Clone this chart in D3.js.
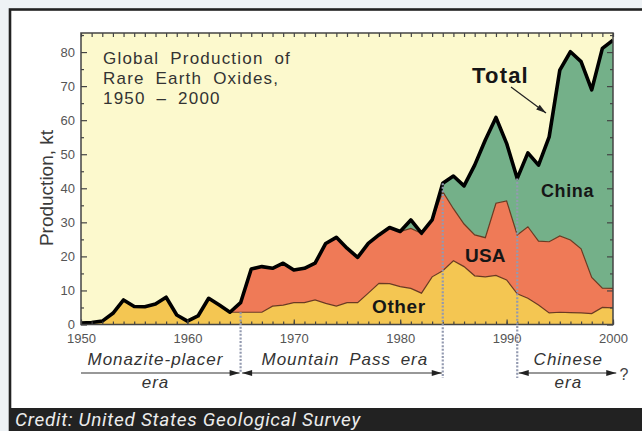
<!DOCTYPE html>
<html>
<head>
<meta charset="utf-8">
<script src="https://cdn.jsdelivr.net/npm/d3@7"></script>
<style>
  html, body { margin: 0; padding: 0; background: #eef2f5; }
  svg { display: block; }
</style>
</head>
<body>
<svg id="chart" width="642" height="431"></svg>
<script>
// Global production of rare earth oxides, kt
const years = [1950,1951,1952,1953,1954,1955,1956,1957,1958,1959,
  1960,1961,1962,1963,1964,1965,1966,1967,1968,1969,
  1970,1971,1972,1973,1974,1975,1976,1977,1978,1979,
  1980,1981,1982,1983,1984,1985,1986,1987,1988,1989,
  1990,1991,1992,1993,1994,1995,1996,1997,1998,1999,2000];
const other = [0.4,0.6,1.0,3.3,7.2,5.3,5.2,6.0,8.0,2.8,
  1.0,2.5,7.7,5.7,3.6,3.6,3.6,3.6,5.4,5.7,
  6.4,6.4,7.2,6.2,5.4,6.4,6.4,9.2,12.1,12.0,
  11.1,10.6,9.2,14.0,15.8,18.7,17.0,14.3,14.0,14.4,
  13.1,9.0,7.7,5.7,3.4,3.6,3.5,3.4,3.2,5.0,4.9];
const usa = [0,0,0,0,0,0,0,0,0,0,
  0,0,0,0,0,2.8,12.7,13.4,11.1,12.3,
  9.6,10.1,10.8,17.6,20.2,16.0,13.3,14.6,14.2,16.5,
  16.2,17.6,17.6,16.7,23.2,15.3,12.5,12.0,11.5,21.2,
  23.2,17.3,21.0,18.8,20.9,22.4,21.3,18.8,10.6,5.7,5.7];
const china = [0,0,0,0,0,0,0,0,0,0,
  0,0,0,0,0,0,0,0,0,0,
  0,0,0,0,0,0,0,0,0,0,
  0,2.5,0,0,2.5,9.6,11.2,20.5,28.7,25.2,
  16.9,16.6,21.7,22.3,30.8,48.7,55.3,55.0,55.1,70.4,72.9];
const yearLabels = [1950,1960,1970,1980,1990,2000];
const yLabels = [0,10,20,30,40,50,60,70,80];
const yMinor = [5,15,25,35,45,55,65,75,85];
const eraBreaks = [1965, 1984, 1991];

const rows = years.map((yr, i) => ({year: yr, other: other[i], usa: usa[i], china: china[i]}));
const keys = ["other", "usa", "china"];
const colors = {other: "#f4c652", usa: "#ef7a57", china: "#74b089"};
const FONT = "'Liberation Sans', Arial, sans-serif";

const svg = d3.select("#chart"),
    W = +svg.attr("width"),
    H = +svg.attr("height");

const pLeft = 81, pRight = 613, pTop = 33, pBottom = 324.5;
const x = d3.scaleLinear().domain([1950, 2000]).range([pLeft, pRight]);
const y = d3.scaleLinear().domain([0, 85.6]).range([pBottom, pTop]);

// frame and credit bar
svg.append("rect").attr("x", 10).attr("y", 9.5).attr("width", W).attr("height", H)
  .attr("fill", "#fff").attr("stroke", "#222").attr("stroke-width", 2.6);
svg.append("rect").attr("x", 10).attr("y", 408).attr("width", W).attr("height", H - 408)
  .attr("fill", "#222");
svg.append("text").attr("x", 15).attr("y", 425.5)
  .attr("font-family", "Roboto, sans-serif").attr("font-style", "italic")
  .attr("font-size", 19).attr("letter-spacing", 0.7).attr("fill", "#ececec")
  .text("Credit: United States Geological Survey");

// plot background
svg.append("rect").attr("x", pLeft).attr("y", pTop).attr("width", pRight - pLeft).attr("height", pBottom - pTop)
  .attr("fill", "#fcf9cd");

svg.append("clipPath").attr("id", "clip").append("rect")
  .attr("x", pLeft).attr("y", pTop).attr("width", pRight - pLeft).attr("height", pBottom - pTop);

const series = d3.stack().keys(keys)(rows);
const g = svg.append("g").attr("clip-path", "url(#clip)");

g.selectAll("path.layer")
  .data(series)
  .join("path")
    .attr("class", "layer")
    .attr("fill", d => colors[d.key])
    .attr("d", d3.area()
      .x(d => x(d.data.year))
      .y0(d => y(d[0]))
      .y1(d => y(d[1])));

// thin boundary lines between layers
g.selectAll("path.edge")
  .data(series.slice(0, 2))
  .join("path")
    .attr("class", "edge")
    .attr("fill", "none")
    .attr("stroke", "#6a3a22")
    .attr("stroke-width", 1.2)
    .attr("d", d3.line().x(d => x(d.data.year)).y(d => y(d[1])));

// total line
g.append("path")
  .datum(rows)
  .attr("fill", "none")
  .attr("stroke", "#000")
  .attr("stroke-width", 3.6)
  .attr("stroke-linejoin", "round")
  .attr("d", d3.line().x(d => x(d.year)).y(d => y(d.other + d.usa + d.china)));

// axes
const axisStyle = sel => {
  sel.selectAll(".domain").remove();
  sel.selectAll("line").attr("stroke", "#444").attr("stroke-width", 1.2);
  sel.selectAll("text").attr("fill", "#555").attr("font-size", 13).attr("font-family", FONT);
};
const yMinorIn = yMinor.filter(v => v < 85.6);
svg.append("g").attr("transform", `translate(${pLeft},0)`)
  .call(d3.axisLeft(y).tickValues(yLabels).tickSize(-6).tickPadding(6).tickFormat(d3.format("d")))
  .call(axisStyle);
svg.append("g").attr("transform", `translate(${pLeft},0)`)
  .call(d3.axisLeft(y).tickValues(yMinorIn).tickSize(-3).tickFormat(""))
  .call(axisStyle);
svg.append("g").attr("transform", `translate(${pRight},0)`)
  .call(d3.axisRight(y).tickValues(yLabels).tickSize(-6).tickFormat(""))
  .call(axisStyle);
svg.append("g").attr("transform", `translate(${pRight},0)`)
  .call(d3.axisRight(y).tickValues(yMinorIn).tickSize(-3).tickFormat(""))
  .call(axisStyle);
svg.append("g").attr("transform", `translate(0,${pBottom})`)
  .call(d3.axisBottom(x).tickValues(yearLabels).tickSize(-5).tickPadding(9).tickFormat(d3.format("d")))
  .call(axisStyle);
svg.append("g").attr("transform", `translate(0,${pBottom})`)
  .call(d3.axisBottom(x).tickValues(years).tickSize(-3).tickFormat(""))
  .call(axisStyle);
svg.append("g").attr("transform", `translate(0,${pTop})`)
  .call(d3.axisTop(x).tickValues(years).tickSize(-4).tickFormat(""))
  .call(axisStyle);

svg.append("rect").attr("x", pLeft).attr("y", pTop).attr("width", pRight - pLeft).attr("height", pBottom - pTop)
  .attr("fill", "none").attr("stroke", "#444").attr("stroke-width", 1.5);

// y label
svg.append("text")
  .attr("transform", "translate(46,188) rotate(-90)")
  .attr("text-anchor", "middle").attr("dy", "0.35em")
  .attr("font-family", FONT)
  .attr("font-size", 19).attr("fill", "#3a3a3a")
  .text("Production, kt");

// title
const title = ["Global Production of", "Rare Earth Oxides,", "1950 \u2013 2000"];
svg.append("g").selectAll("text")
  .data(title)
  .join("text")
    .attr("x", 103).attr("y", (d, i) => 64 + i * 20)
    .attr("font-family", FONT)
    .attr("font-size", 17).attr("fill", "#333")
    .attr("letter-spacing", 1.2).attr("word-spacing", 5)
    .text(d => d);

// series labels
const labels = [
  {t: "Total", x: 472, y: 83, s: 22, ls: 1.2},
  {t: "China", x: 541, y: 197, s: 18, ls: 0.6},
  {t: "USA", x: 465, y: 262, s: 19, ls: 0.2},
  {t: "Other", x: 372, y: 313, s: 19, ls: 0.6}
];
svg.append("g").selectAll("text")
  .data(labels)
  .join("text")
    .attr("x", d => d.x).attr("y", d => d.y)
    .attr("font-family", FONT)
    .attr("font-weight", "bold").attr("font-size", d => d.s)
    .attr("letter-spacing", d => d.ls).attr("fill", "#161616")
    .text(d => d.t);

// arrow marker
const defs = svg.append("defs");
defs.append("marker").attr("id", "arrow")
  .attr("viewBox", "0 0 10 6").attr("refX", 10).attr("refY", 3)
  .attr("markerWidth", 11).attr("markerHeight", 6).attr("markerUnits", "userSpaceOnUse")
  .attr("orient", "auto-start-reverse")
  .append("path").attr("d", "M0,0 L10,3 L0,6 Z").attr("fill", "#222");

svg.append("line").attr("x1", 511).attr("y1", 87).attr("x2", 546).attr("y2", 113)
  .attr("stroke", "#222").attr("stroke-width", 1.2).attr("marker-end", "url(#arrow)");

// era divider lines
const totalAt = yr => { const i = years.indexOf(yr); return other[i] + usa[i] + china[i]; };
const otherAt = yr => other[years.indexOf(yr)];
svg.append("g").selectAll("line")
  .data(eraBreaks)
  .join("line")
    .attr("x1", d => x(d)).attr("x2", d => x(d))
    .attr("y1", (d, i) => i === 0 ? y(otherAt(d)) : y(totalAt(d)))
    .attr("y2", (d, i) => i === 0 ? 372 : 378)
    .attr("stroke", "#939ab0").attr("stroke-width", 2.2)
    .attr("stroke-dasharray", "2,1.6");

// era arrows
const arrowY = 373;
const eras = [
  {x1: 1950, x2: 1965, both: false},
  {x1: 1965, x2: 1984, both: true},
  {x1: 1991, x2: 2000.4, both: true}
];
svg.append("g").selectAll("line")
  .data(eras)
  .join("line")
    .attr("x1", d => x(d.x1) + (d.both ? 1.5 : 0)).attr("x2", d => x(d.x2) - 1)
    .attr("y1", arrowY).attr("y2", arrowY)
    .attr("stroke", "#333").attr("stroke-width", 1.2)
    .attr("marker-end", "url(#arrow)")
    .attr("marker-start", d => d.both ? "url(#arrow)" : null);

const eraText = [
  {t: "Monazite-placer", x: 1957, y: 365},
  {t: "era", x: 1957, y: 388},
  {t: "Mountain Pass era", x: 1974.8, y: 365},
  {t: "Chinese", x: 1995.8, y: 365},
  {t: "era", x: 1995.8, y: 388}
];
svg.append("g").selectAll("text")
  .data(eraText)
  .join("text")
    .attr("x", d => x(d.x)).attr("y", d => d.y)
    .attr("text-anchor", "middle")
    .attr("font-family", FONT)
    .attr("font-style", "italic").attr("font-size", 17).attr("fill", "#333")
    .attr("letter-spacing", 1).attr("word-spacing", 4)
    .text(d => d.t);
svg.append("text").attr("x", x(2000.6)).attr("y", 380)
  .attr("font-family", FONT)
  .attr("font-size", 16).attr("fill", "#444").text("?");
</script>
</body>
</html>
